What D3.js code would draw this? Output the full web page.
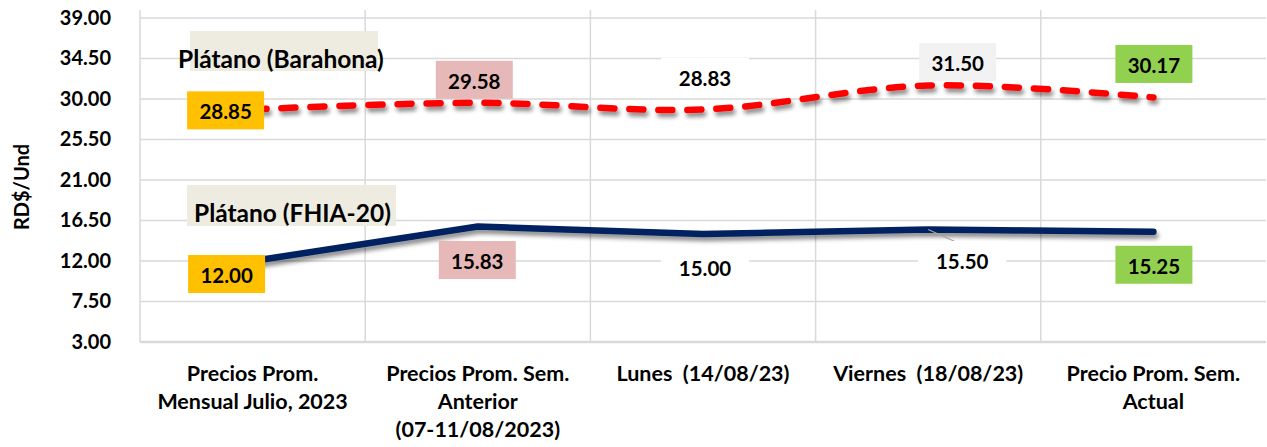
<!DOCTYPE html>
<html>
<head>
<meta charset="utf-8">
<script src="https://cdn.jsdelivr.net/npm/d3@7"></script>
<style>
  body { margin: 0; background: #fff; }
  text { font-family: Lato, "Open Sans", sans-serif; font-weight: bold; fill: #000; }
</style>
</head>
<body>
<svg id="chart"></svg>
<script>
// data
const categories = [
  "Precios Prom.\nMensual Julio, 2023",
  "Precios Prom. Sem.\nAnterior\n(07-11/08/2023)",
  "Lunes  (14/08/23)",
  "Viernes  (18/08/23)",
  "Precio Prom. Sem.\nActual"
];
const seriesNames = ["Plátano (Barahona)", "Plátano (FHIA-20)"];
const barahona = [28.85, 29.58, 28.83, 31.50, 30.17];
const fhia = [12.00, 15.83, 15.00, 15.50, 15.25];
const yTicks = [3, 7.5, 12, 16.5, 21, 25.5, 30, 34.5, 39];
const yTitle = "RD$/Und";

// label box colours per category
const barahonaFills = ["#FFC000", "#E6B9B8", "#FFFFFF", "#F2F2F2", "#92D050"];
const fhiaFills = ["#FFC000", "#E6B9B8", "#FFFFFF", "#FFFFFF", "#92D050"];

const width = 1267, height = 447;
const margin = { top: 18, right: 1, bottom: 105, left: 140 };

const svg = d3.select("#chart")
  .attr("width", width)
  .attr("height", height);

// drop shadow like the excel line effect
const defs = svg.append("defs");
defs.append("filter")
  .attr("id", "shadow")
  .attr("x", "-5%").attr("y", "-50%").attr("width", "110%").attr("height", "200%")
  .append("feDropShadow")
  .attr("dx", 2).attr("dy", 4).attr("stdDeviation", 2.2)
  .attr("flood-color", "#000").attr("flood-opacity", 0.45);

const x = d3.scaleBand()
  .domain(categories)
  .range([margin.left, width - margin.right])
  .padding(0);
const cx = i => x(categories[i]) + x.bandwidth() / 2;

const y = d3.scaleLinear()
  .domain([3, 39])
  .range([height - margin.bottom, margin.top]);

// horizontal gridlines
svg.append("g")
  .selectAll("line")
  .data(yTicks)
  .join("line")
    .attr("x1", margin.left)
    .attr("x2", width - margin.right)
    .attr("y1", d => y(d))
    .attr("y2", d => y(d))
    .attr("stroke", "#D9D9D9")
    .attr("stroke-width", d => d === 3 ? 2.5 : 1.5);

// vertical gridlines (band edges)
svg.append("g")
  .selectAll("line")
  .data(categories)
  .join("line")
    .attr("x1", d => x(d))
    .attr("x2", d => x(d))
    .attr("y1", margin.top - 8)
    .attr("y2", y(3))
    .attr("stroke", "#D9D9D9")
    .attr("stroke-width", 1.5);

// y axis labels
const yAxis = svg.append("g")
  .attr("transform", `translate(${margin.left},0)`)
  .call(d3.axisLeft(y).tickValues(yTicks).tickFormat(d3.format(".2f")).tickSize(0).tickPadding(29));
yAxis.select(".domain").remove();
yAxis.selectAll("text")
  .style("font-family", "Lato, sans-serif")
  .style("font-weight", "bold")
  .style("font-size", "20px")
  .attr("fill", "#000");

svg.append("text")
  .attr("transform", `translate(21,${(margin.top + y(3)) / 2 + 7}) rotate(-90)`)
  .attr("text-anchor", "middle")
  .attr("dominant-baseline", "central")
  .style("font-size", "20px")
  .text(yTitle);

// x axis labels (multi-line)
const xLab = svg.append("g")
  .selectAll("text")
  .data(categories)
  .join("text")
    .attr("text-anchor", "middle")
    .style("font-size", "21.5px")
    .attr("x", d => x(d) + x.bandwidth() / 2)
    .attr("y", 381);
xLab.selectAll("tspan")
  .data(d => d.split("\n"))
  .join("tspan")
    .attr("x", function () { return d3.select(this.parentNode).attr("x"); })
    .attr("dy", (d, i) => i === 0 ? 0 : 28)
    .style("white-space", "pre")
    .text(d => d);

// lines
const lineRed = d3.line()
  .x((d, i) => cx(i))
  .y(d => y(d))
  .curve(d3.curveCatmullRom.alpha(0.5));
const lineBlue = d3.line()
  .x((d, i) => cx(i))
  .y(d => y(d));

svg.append("path")
  .datum(fhia)
  .attr("fill", "none")
  .attr("stroke", "#002060")
  .attr("stroke-width", 6.5)
  .attr("stroke-linecap", "round")
  .attr("stroke-linejoin", "round")
  .attr("filter", "url(#shadow)")
  .attr("d", lineBlue);

svg.append("path")
  .datum(barahona)
  .attr("fill", "none")
  .attr("stroke", "#FF0000")
  .attr("stroke-width", 6.5)
  .attr("stroke-dasharray", "14,15")
  .attr("stroke-linecap", "round")
  .attr("filter", "url(#shadow)")
  .attr("d", lineRed);

// data label placement offsets from each point (layout)
const barahonaOffsets = [[-27, 1], [-3.5, -23], [2, -32.5], [29.5, -23.5], [0.5, -33.5]];
const fhiaOffsets = [[-26, 13], [-0.5, 33.5], [2, 33], [34, 30.5], [0.5, 33]];
const fmt = d3.format(".2f");

// leader line for the 15.50 label
svg.append("line")
  .attr("x1", cx(3)).attr("y1", y(fhia[3]))
  .attr("x2", cx(3) + 31).attr("y2", y(fhia[3]) + 14)
  .attr("stroke", "#A6A6A6")
  .attr("stroke-width", 1.2);

function drawLabels(values, fills, offsets) {
  const g = svg.append("g")
    .selectAll("g")
    .data(values)
    .join("g")
      .attr("transform", (d, i) => `translate(${cx(i) + offsets[i][0]},${y(d) + offsets[i][1]})`);
  g.append("rect")
    .attr("x", (d, i) => fills[i] === "#FFFFFF" ? -44 : -38.5)
    .attr("y", -19)
    .attr("width", (d, i) => fills[i] === "#FFFFFF" ? 88 : 77)
    .attr("height", 38)
    .attr("fill", (d, i) => fills[i]);
  g.append("text")
    .attr("text-anchor", "middle")
    .attr("dominant-baseline", "central")
    .attr("y", 1)
    .style("font-size", "20.5px")
    .text(d => fmt(d));
}
drawLabels(barahona, barahonaFills, barahonaOffsets);
drawLabels(fhia, fhiaFills, fhiaOffsets);

// series name labels
const nameBoxes = [
  { x: 190, y: 31, w: 188, h: 40, tx: 178, ty: 58 },
  { x: 187, y: 185, w: 209, h: 41, tx: 194, ty: 212 }
];
const names = svg.append("g")
  .selectAll("g")
  .data(seriesNames)
  .join("g");
names.append("rect")
  .attr("x", (d, i) => nameBoxes[i].x)
  .attr("y", (d, i) => nameBoxes[i].y)
  .attr("width", (d, i) => nameBoxes[i].w)
  .attr("height", (d, i) => nameBoxes[i].h)
  .attr("fill", "#EEECE1");
names.append("text")
  .attr("x", (d, i) => nameBoxes[i].tx)
  .attr("y", (d, i) => nameBoxes[i].ty)
  .attr("dominant-baseline", "central")
  .style("font-size", "24.5px")
  .text(d => d);
</script>
</body>
</html>
